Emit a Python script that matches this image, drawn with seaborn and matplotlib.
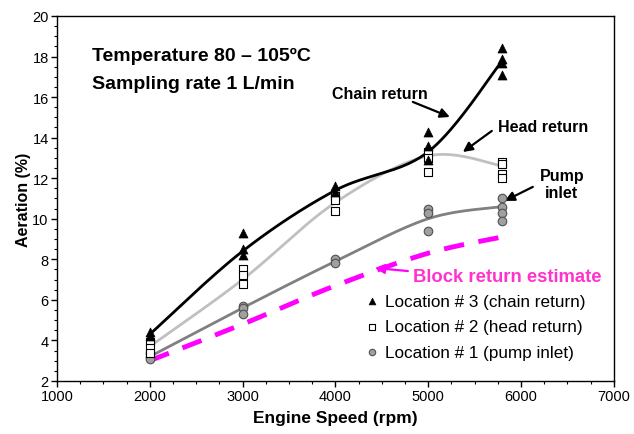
import numpy as np
import pandas as pd
import matplotlib
matplotlib.use("Agg")
import matplotlib.pyplot as plt
import seaborn as sns

# Measured aeration at each engine speed, by sampling location
loc3_speed = [2000, 2000, 3000, 3000, 3000, 4000, 4000, 5000, 5000, 5000, 5800, 5800, 5800, 5800]
loc3_aer = [4.4, 4.2, 9.3, 8.5, 8.2, 11.6, 11.3, 14.3, 13.6, 12.9, 18.4, 17.9, 17.7, 17.1]

loc2_speed = [2000, 2000, 2000, 3000, 3000, 3000, 4000, 4000, 4000, 5000, 5000, 5000, 5800, 5800, 5800, 5800]
loc2_aer = [3.9, 3.6, 3.4, 7.5, 7.2, 6.8, 11.1, 10.9, 10.4, 13.3, 13.0, 12.3, 12.8, 12.7, 12.2, 12.0]

loc1_speed = [2000, 2000, 2000, 3000, 3000, 3000, 4000, 4000, 5000, 5000, 5000, 5800, 5800, 5800, 5800]
loc1_aer = [3.4, 3.2, 3.1, 5.7, 5.6, 5.3, 8.0, 7.8, 10.5, 10.3, 9.4, 11.0, 10.6, 10.3, 9.9]

# Trend values at each speed
trend_speed = [2000, 3000, 4000, 5000, 5800]
chain_trend = [4.3, 8.4, 11.4, 13.3, 17.8]
head_trend = [3.7, 7.0, 10.8, 13.1, 12.6]
pump_trend = [3.2, 5.6, 7.9, 10.0, 10.6]
block_trend = [3.0, 4.8, 6.7, 8.3, 9.1]


def smooth(xs, ys, n=40):
    """Catmull-Rom style smoothing through the given points."""
    x = np.asarray(xs, float)
    y = np.asarray(ys, float)
    px = np.concatenate([[x[0]], x, [x[-1]]])
    py = np.concatenate([[y[0]], y, [y[-1]]])
    out_x, out_y = [], []
    for i in range(1, len(px) - 2):
        p0x, p1x, p2x, p3x = px[i - 1:i + 3]
        p0y, p1y, p2y, p3y = py[i - 1:i + 3]
        c1x, c1y = p1x + (p2x - p0x) / 6, p1y + (p2y - p0y) / 6
        c2x, c2y = p2x - (p3x - p1x) / 6, p2y - (p3y - p1y) / 6
        t = np.linspace(0, 1, n)
        bx = (1 - t) ** 3 * p1x + 3 * (1 - t) ** 2 * t * c1x + 3 * (1 - t) * t ** 2 * c2x + t ** 3 * p2x
        by = (1 - t) ** 3 * p1y + 3 * (1 - t) ** 2 * t * c1y + 3 * (1 - t) * t ** 2 * c2y + t ** 3 * p2y
        out_x.append(bx)
        out_y.append(by)
    return np.concatenate(out_x), np.concatenate(out_y)


sns.set_theme(style="white")
plt.rcParams["font.family"] = ["Liberation Sans", "DejaVu Sans"]
plt.rcParams.update({
    "text.color": "black",
    "axes.labelcolor": "black",
    "xtick.color": "black",
    "ytick.color": "black",
})

fig = plt.figure(figsize=(6.34, 4.35), dpi=100)
ax = fig.add_axes([0.09, 0.122, 0.878, 0.839])

# Trend curves
for vals, col, lw in [
    (pump_trend, "#808080", 2.0),
    (head_trend, "#C0C0C0", 2.0),
    (chain_trend, "#000000", 2.0),
]:
    sx, sy = smooth(trend_speed, vals)
    sns.lineplot(x=sx, y=sy, ax=ax, color=col, lw=lw, sort=False, estimator=None)

bx, by = smooth(trend_speed, block_trend)
ax.plot(bx, by, color="#FF00FF", lw=3.5, dashes=(4.2, 3.0), solid_capstyle="butt")

# Measurements
d3 = pd.DataFrame({"speed": loc3_speed, "aer": loc3_aer})
d2 = pd.DataFrame({"speed": loc2_speed, "aer": loc2_aer})
d1 = pd.DataFrame({"speed": loc1_speed, "aer": loc1_aer})
sns.scatterplot(data=d1, x="speed", y="aer", ax=ax, marker="o", s=38,
                color="#A0A0A0", edgecolor="#505050", linewidth=0.8,
                label="Location # 1 (pump inlet)", zorder=5)
sns.scatterplot(data=d2, x="speed", y="aer", ax=ax, marker="s", s=36,
                color="white", edgecolor="black", linewidth=0.8,
                label="Location # 2 (head return)", zorder=6)
sns.scatterplot(data=d3, x="speed", y="aer", ax=ax, marker="^", s=42,
                color="black", edgecolor="black", linewidth=0.5,
                label="Location # 3 (chain return)", zorder=7)

ax.set_xlim(1000, 7000)
ax.set_ylim(2, 20)
ax.set_xticks(np.arange(1000, 7001, 1000))
ax.set_yticks(np.arange(2, 21, 2))
ax.set_xticks(np.arange(1000, 7001, 250), minor=True)
ax.set_yticks(np.arange(2, 20.01, 0.5), minor=True)
ax.tick_params(axis="both", which="major", direction="out", length=4, width=1,
               labelsize=10.5, colors="black", bottom=True, left=True, pad=2)
ax.tick_params(axis="both", which="minor", direction="out", length=2.5, width=0.8,
               bottom=True, left=True)
for s in ax.spines.values():
    s.set_color("black")
    s.set_linewidth(1.0)

ax.set_xlabel("Engine Speed (rpm)", fontsize=12.5, fontweight="bold", labelpad=5)
ax.set_ylabel("Aeration (%)", fontsize=11.5, fontweight="bold", labelpad=1)

# Legend
h, l = ax.get_legend_handles_labels()
order = [2, 1, 0]
ax.legend([h[i] for i in order], [l[i] for i in order], loc="lower left",
          bbox_to_anchor=(0.52, 0.016), frameon=False, fontsize=12.3,
          handletextpad=0.15, handlelength=1.2, labelspacing=0.62, markerscale=0.75)

# Test conditions
ax.text(1377, 18.03, "Temperature 80 \u2013 105\u00baC", fontsize=14,
        fontweight="bold", ha="left", va="center")
ax.text(1377, 16.69, "Sampling rate 1 L/min", fontsize=14,
        fontweight="bold", ha="left", va="center")

# Curve labels and their pointers
arrow = dict(arrowstyle="-|>", color="black", lw=1.6, mutation_scale=14,
             shrinkA=0, shrinkB=0)
ax.text(4480, 16.2, "Chain return", fontsize=11.5, fontweight="bold",
        ha="center", va="center")
ax.annotate("", xy=(5234, 15.02), xytext=(4835, 15.76), arrowprops=arrow)

ax.text(6235, 14.57, "Head return", fontsize=11.5, fontweight="bold",
        ha="center", va="center")
ax.annotate("", xy=(5374, 13.29), xytext=(5686, 14.33), arrowprops=arrow)

ax.text(6440, 11.71, "Pump\ninlet", fontsize=11.5, fontweight="bold",
        ha="center", va="center", linespacing=1.2)
ax.annotate("", xy=(5826, 10.88), xytext=(6128, 11.57), arrowprops=arrow)

ax.text(4835, 7.13, "Block return estimate", fontsize=13.3, fontweight="bold",
        color="#FF33CC", ha="left", va="center")
ax.annotate("", xy=(4426, 7.57), xytext=(4781, 7.42),
            arrowprops=dict(arrow, color="#FF00FF"))

fig.savefig("out.png", dpi=100)
